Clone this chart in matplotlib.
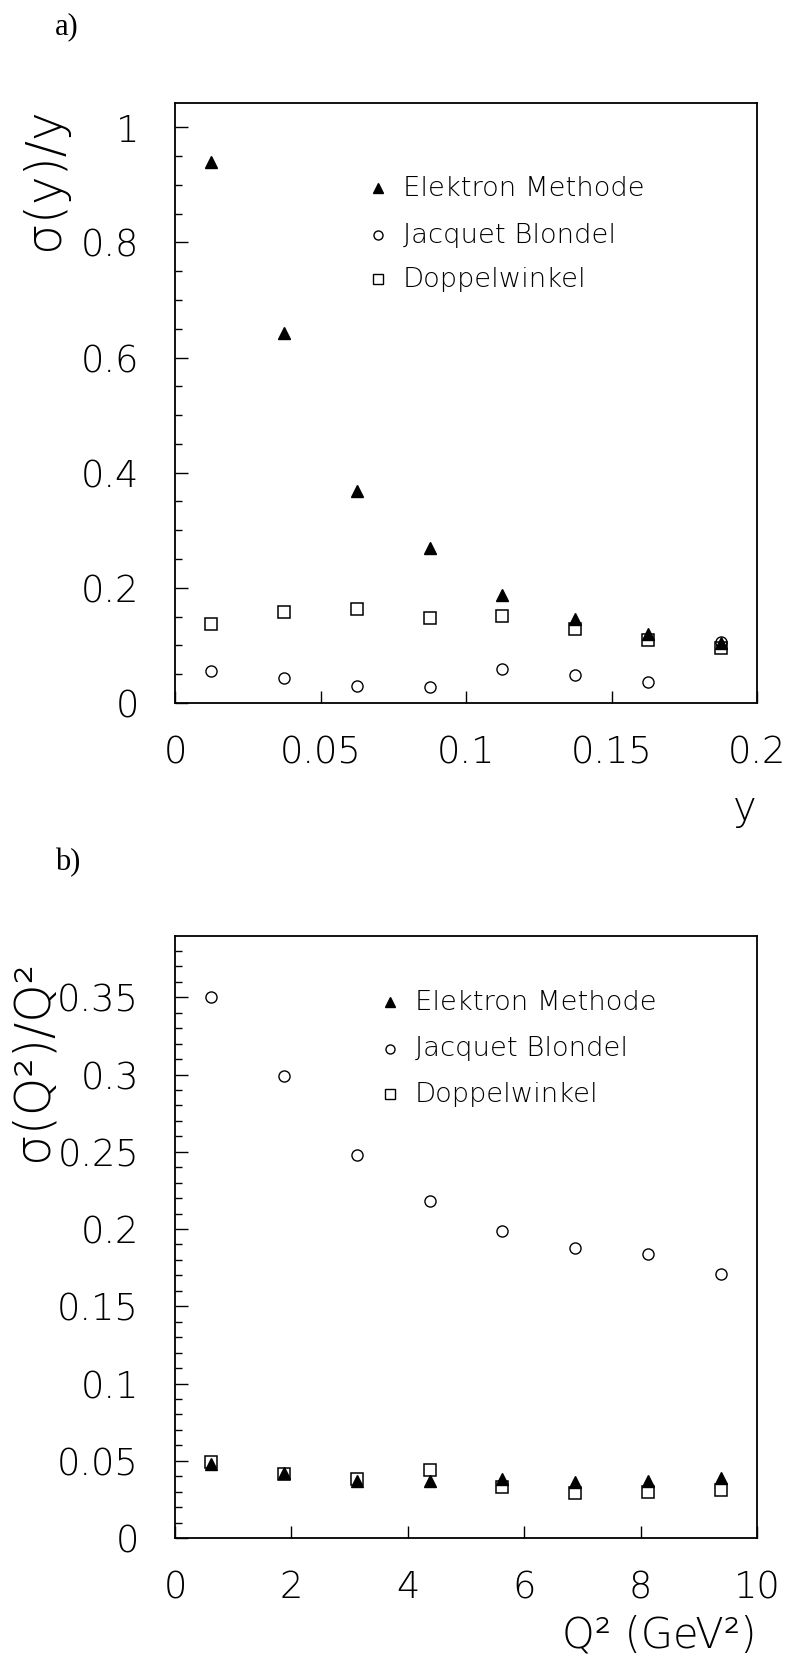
import matplotlib
matplotlib.use("Agg")
import matplotlib.pyplot as plt
from matplotlib.ticker import MultipleLocator, FormatStrFormatter

# a) resolution in y
y_bins = [0.0125, 0.0375, 0.0625, 0.0875, 0.1125, 0.1375, 0.1625, 0.1875]
y_elektron = [0.939, 0.643, 0.369, 0.269, 0.188, 0.146, 0.120, 0.104]
y_jb = [0.056, 0.044, 0.030, 0.028, 0.059, 0.049, 0.037, 0.106]
y_doppel = [0.137, 0.158, 0.163, 0.148, 0.151, 0.129, 0.110, 0.096]

# b) resolution in Q^2
q2_bins = [0.625, 1.875, 3.125, 4.375, 5.625, 6.875, 8.125, 9.375]
q2_elektron = [0.0482, 0.0420, 0.0368, 0.0372, 0.0379, 0.0361, 0.0370, 0.0390]
q2_jb = [0.350, 0.299, 0.248, 0.218, 0.199, 0.188, 0.184, 0.171]
q2_doppel = [0.0489, 0.0416, 0.0383, 0.0440, 0.0330, 0.0289, 0.0295, 0.0313]

labels = ['Elektron Methode', 'Jacquet Blondel', 'Doppelwinkel']

plt.rcParams['font.family'] = ['DejaVu Sans']
plt.rcParams['font.weight'] = 200

fig = plt.figure(figsize=(7.93, 16.61), dpi=100)
W, H = 793.0, 1661.0
ax1 = fig.add_axes([175/W, 1-703/H, 582/W, 600/H])
ax2 = fig.add_axes([175/W, 1-1538/H, 582/W, 602/H])


def style(ax, xmaj, ymaj, ymin):
    for s in ax.spines.values():
        s.set_linewidth(1.3)
    ax.xaxis.set_major_locator(MultipleLocator(xmaj))
    ax.yaxis.set_major_locator(MultipleLocator(ymaj))
    ax.yaxis.set_minor_locator(MultipleLocator(ymin))
    ax.xaxis.set_major_formatter(FormatStrFormatter('%g'))
    ax.yaxis.set_major_formatter(FormatStrFormatter('%g'))
    ax.tick_params(axis='both', which='both', direction='in', top=False, right=False)
    ax.tick_params(axis='x', which='major', length=8.5, width=1, pad=22.5, labelsize=26.5)
    ax.tick_params(axis='y', which='major', length=9, width=1, pad=26, labelsize=26.5)
    ax.tick_params(axis='y', which='minor', length=4.8, width=1)


def draw(ax, x, e, jb, dw, mx, tx, rows):
    ax.plot(x, dw, linestyle='none', marker='s', ms=8, mfc='none', mec='black', mew=1.1)
    ax.plot(x, jb, linestyle='none', marker='o', ms=8, mfc='none', mec='black', mew=1.0)
    ax.plot(x, e, linestyle='none', marker='^', ms=8.5, mfc='black', mec='black')
    marks = [dict(marker='^', ms=7, mfc='black'), dict(marker='o', ms=6.5, mfc='none'),
             dict(marker='s', ms=6.5, mfc='none')]
    for lab, m, ry in zip(labels, marks, rows):
        ax.plot([mx], [ry], transform=ax.transAxes, linestyle='none', mec='black', mew=1.0,
                clip_on=False, **m)
        ax.text(tx, ry, lab, transform=ax.transAxes, fontsize=19.7, ha='left', va='center')


style(ax1, 0.05, 0.2, 0.05)
ax1.set_xlim(0, 0.2)
ax1.set_ylim(0, 1.042)
draw(ax1, y_bins, y_elektron, y_jb, y_doppel, 0.349, 0.391, [0.858, 0.780, 0.706])
ax1.text(-0.225, 0.993, 'σ(y)/y', transform=ax1.transAxes, rotation=90,
         ha='center', va='top', fontsize=35)
ax1.text(1.0, -0.175, 'y', transform=ax1.transAxes, ha='right', va='center', fontsize=29)

style(ax2, 2, 0.05, 0.01)
ax2.set_xlim(0, 10)
ax2.set_ylim(0, 0.3897)
draw(ax2, q2_bins, q2_elektron, q2_jb, q2_doppel, 0.370, 0.412, [0.890, 0.813, 0.737])
ax2.text(-0.244, 0.96, 'σ(Q²)/Q²', transform=ax2.transAxes, rotation=90,
         ha='center', va='top', fontsize=35)
ax2.text(1.0, -0.161, 'Q² (GeV²)', transform=ax2.transAxes, ha='right', va='center', fontsize=30)

serif = ['Liberation Serif', 'DejaVu Serif']
fig.text(55/W, 1-27/H, 'a)', family=serif, fontsize=22, fontweight='normal', ha='left', va='center')
fig.text(55/W, 1-863/H, 'b)', family=serif, fontsize=22, fontweight='normal', ha='left', va='center')

fig.savefig('out.png', dpi=100)
